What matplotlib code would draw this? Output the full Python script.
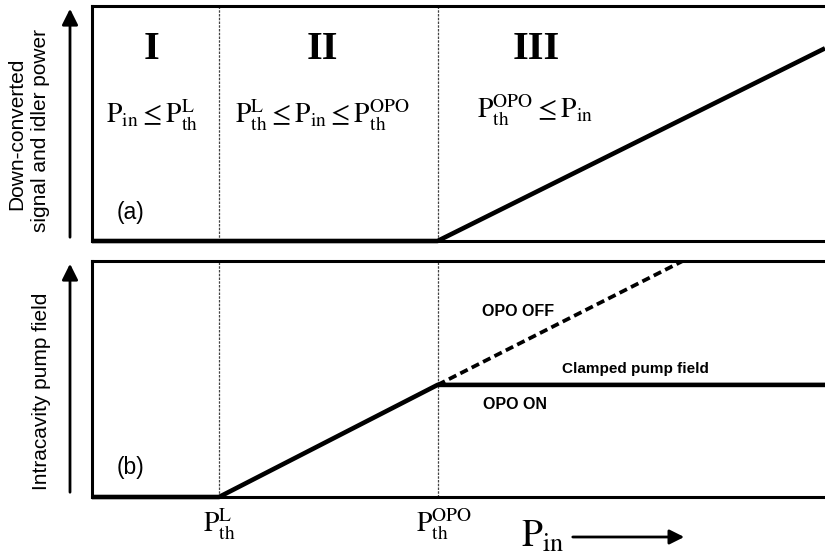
import matplotlib
matplotlib.use("Agg")
import matplotlib.pyplot as plt

plt.rcParams['mathtext.fontset'] = 'stix'
plt.rcParams['font.family'] = ['Liberation Sans', 'DejaVu Sans']

# thresholds / range (arbitrary units along P_in)
p_L = 1.0
p_opo = 2.72
p_max = 5.77

# (a) down-converted signal and idler power
signal_x = [0, p_opo, p_max]
signal_y = [0, 0, 0.82]

# (b) intracavity pump field
pump_x = [0, p_L, p_opo, p_max]
pump_y = [0, 0, 0.475, 0.475]
off_x = [p_opo, 4.65]
off_y = [0.475, 1.0]

regions = ['I', 'II', 'III']
region_x = [0.47, 1.81, 3.50]
conds = [r'$\mathrm{P_{in} \leq P_{th}^{L}}$',
         r'$\mathrm{P_{th}^{L} \leq P_{in} \leq P_{th}^{OPO}}$',
         r'$\mathrm{P_{th}^{OPO} \leq P_{in}}$']
cond_x = [0.47, 1.81, 3.49]

fig = plt.figure(figsize=(8.25, 5.54), dpi=100)
ax1 = fig.add_axes([92/825, 313/554, 733/825, 235/554])
ax2 = fig.add_axes([92/825, 57/554, 733/825, 236/554])

for ax in (ax1, ax2):
    ax.set_xlim(0, p_max)
    ax.set_ylim(0, 1)
    ax.set_xticks([])
    ax.set_yticks([])
    ax.spines['right'].set_visible(False)
    for s in ('top', 'bottom', 'left'):
        ax.spines[s].set_linewidth(2.2)
    for xv in (p_L, p_opo):
        ax.axvline(xv, color='#444444', lw=0.9, ls=(0, (2, 1)))

ax1.plot(signal_x, signal_y, color='black', lw=3.3, clip_on=False,
         solid_capstyle='butt')
ax2.plot(pump_x, pump_y, color='black', lw=3.3, clip_on=False,
         solid_capstyle='butt')
ax2.plot(off_x, off_y, color='black', lw=2.7, ls=(0, (2.2, 1.2)))

for r, rx in zip(regions, region_x):
    ax1.text(rx, 0.815, r, ha='center', va='center',
             fontsize=29, fontweight='bold', family='Liberation Serif')
for c, cx, cy in zip(conds, cond_x, [0.536, 0.536, 0.557]):
    ax1.text(cx, cy, c, ha='center', va='center', fontsize=20)

ax1.text(0.3, 0.123, '(a)', ha='center', va='center', fontsize=16.5)
ax2.text(0.3, 0.123, '(b)', ha='center', va='center', fontsize=16.5)

ax2.text(3.35, 0.788, 'OPO OFF', ha='center', va='center', fontsize=11.5,
         fontweight='bold')
ax2.text(4.28, 0.542, 'Clamped pump field', ha='center', va='center',
         fontsize=11, fontweight='bold')
ax2.text(3.33, 0.39, 'OPO ON', ha='center', va='center', fontsize=11.5,
         fontweight='bold')

ax2.text(p_L, -0.04, r'$\mathrm{P_{th}^{L}}$', ha='center', va='top',
         fontsize=20)
ax2.text(p_opo + 0.05, -0.04, r'$\mathrm{P_{th}^{OPO}}$', ha='center',
         va='top', fontsize=20)

# P_in label with arrow
fig.text(543/825, 1 - 537/554, r'$\mathrm{P_{in}}$', ha='center',
         va='center', fontsize=27)
fig.add_artist(matplotlib.patches.FancyArrowPatch(
    (570/825, 1 - 537/554), (687/825, 1 - 537/554),
    transform=fig.transFigure, arrowstyle='-|>', mutation_scale=22,
    lw=2, color='black'))

# vertical arrows for y axes
for y0, y1 in ((240, 6), (495, 261)):
    fig.add_artist(matplotlib.patches.FancyArrowPatch(
        (70/825, 1 - y0/554), (70/825, 1 - y1/554),
        transform=fig.transFigure, arrowstyle='-|>', mutation_scale=24,
        lw=2, color='black'))

fig.text(17/825, 1 - 134/554, 'Down-converted', rotation=90, ha='center',
         va='center', fontsize=15)
fig.text(41/825, 1 - 131/554, 'signal and idler power', rotation=90,
         ha='center', va='center', fontsize=15)
fig.text(42/825, 1 - 391/554, 'Intracavity pump field', rotation=90,
         ha='center', va='center', fontsize=15)

fig.savefig('out.png', dpi=100)
